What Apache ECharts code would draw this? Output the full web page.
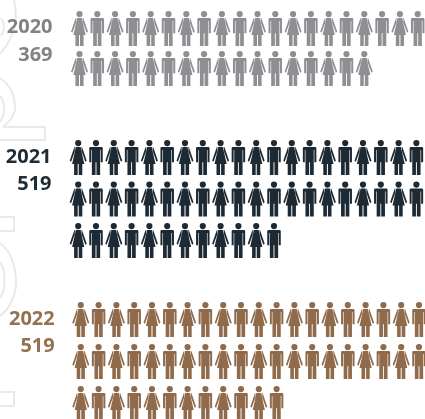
<!DOCTYPE html>
<html>
<head>
<meta charset="utf-8">
<style>html,body{margin:0;padding:0;background:#fff}#chart{width:425px;height:419px}</style>
<script src="https://cdn.jsdelivr.net/npm/echarts@6/dist/echarts.min.js"></script>
</head>
<body>
<div id="chart"></div>
<script>
// Yearly totals, shown as rows of person icons (one icon per ten people)
const years = ['2020', '2021', '2022'];
const totals = [369, 519, 519];
const peoplePerIcon = 10;
const iconsPerRow = 20;

const iconColors = ['#8d8f92', '#1d2933', '#8f6b4c'];
const labelColors = ['#808285', '#1f2b35', '#94714f'];

// Block layout per year: centre of the first icon and row pitch
const firstX = [79.5, 78.2, 80.8];
const firstY = [28.5, 157.5, 319.5];
const rowGap = [40, 41.5, 42];
const colGap = 17.8;
const yearBaseline = [32.7, 162, 324];
const totalBaseline = [60, 189, 351];
const labelRight = [52.5, 51.5, 54.7];

const FEMALE = 'path://M85 0A31 31 0 1 1 84.9 0Z' +
  'M60 71L110 71L118 118L146 240L126 240L126 350L90 350L90 240L80 240L80 350L44 350L44 240L24 240L52 118Z' +
  'M52 71L46 73L0 208L14 218L50 118Z' +
  'M118 71L124 73L170 208L156 218L120 118Z';
const MALE = 'path://M67.5 0A31 31 0 1 1 67.4 0Z' +
  'M12 71L123 71Q135 71 135 83L135 222L115 222L115 100L109 100L109 350L72 350L72 222L63 222L63 350L26 350L26 100L20 100L20 222L0 222L0 83Q0 71 12 71Z';

const iconCounts = totals.map(t => Math.round(t / peoplePerIcon));

const grids = [], xAxes = [], yAxes = [], series = [], texts = [];
years.forEach((year, i) => {
  const rows = Math.ceil(iconCounts[i] / iconsPerRow);
  grids.push({
    left: firstX[i], top: firstY[i],
    width: colGap * (iconsPerRow - 1),
    height: rowGap[i] * (rows - 1),
    containLabel: false
  });
  xAxes.push({ type: 'value', gridIndex: i, min: 0, max: iconsPerRow - 1, show: false });
  yAxes.push({ type: 'value', gridIndex: i, min: 0, max: rows - 1, inverse: true, show: false });

  const points = [];
  for (let n = 0; n < iconCounts[i]; n++) {
    const col = n % iconsPerRow;
    const row = Math.floor(n / iconsPerRow);
    const female = col % 2 === 0;
    points.push({
      value: [col, row],
      symbol: female ? FEMALE : MALE,
      symbolSize: female ? [17, 35] : [13.5, 35]
    });
  }
  series.push({
    type: 'scatter', name: year,
    xAxisIndex: i, yAxisIndex: i,
    clip: false, silent: true, animation: false,
    itemStyle: { color: iconColors[i], opacity: 1 },
    data: points
  });

  [[year, yearBaseline[i]], [String(totals[i]), totalBaseline[i]]].forEach(([text, y]) => {
    texts.push({
      type: 'text', x: labelRight[i], y: y + 5, z: 10,
      style: {
        text: text, align: 'right', verticalAlign: 'bottom',
        font: '700 20px "Open Sans"', fill: labelColors[i]
      }
    });
  });
});

// Pale decorative outlines running down the left edge
const outline = { stroke: '#e9e9e9', lineWidth: 2, fill: 'none' };
const curve = (x1, y1, cpx1, cpy1, cpx2, cpy2, x2, y2) => ({
  type: 'bezierCurve', z: -1, silent: true,
  shape: { x1, y1, cpx1, cpy1, cpx2, cpy2, x2, y2 }, style: outline
});
const edge = (...points) => ({
  type: 'polyline', z: -1, silent: true,
  shape: { points }, style: outline
});
const decor = [
  curve(14, 0, 18, 16, 16, 36, 0, 54),
  curve(1, 18, 5, 24, 5, 30, 1, 36),
  curve(0, 78, 12, 86, 15, 98, 15, 108),
  curve(15, 108, 15, 116, 9, 122, 3, 127),
  edge([3, 127], [45, 127], [45, 140], [0, 140]),
  curve(0, 96, 5, 102, 6, 114, 0, 122),
  edge([0, 217], [14, 217], [14, 231], [0, 231]),
  curve(0, 243, 10, 250, 16, 266, 16, 282),
  curve(16, 282, 16, 298, 8, 310, 0, 316),
  curve(0, 262, 6, 270, 6, 290, 0, 298),
  edge([0, 392], [14, 392], [14, 406], [0, 406])
];

const chart = echarts.init(document.getElementById('chart'), null, { renderer: 'canvas' });
chart.setOption({
  animation: false,
  backgroundColor: '#ffffff',
  grid: grids, xAxis: xAxes, yAxis: yAxes, series: series,
  graphic: { elements: decor.concat(texts) }
});
</script>
</body>
</html>
